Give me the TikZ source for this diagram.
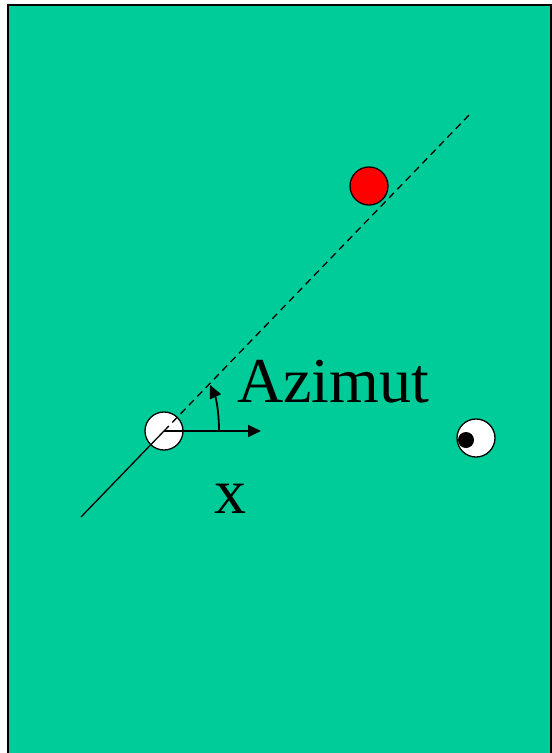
\documentclass[tikz,border=0pt]{standalone}
\usepackage{fontspec}
\setmainfont{Liberation Serif}
\usetikzlibrary{arrows.meta}
\definecolor{field}{HTML}{00CC99}
\tikzset{
  ball/.style={circle,draw=black,line width=1.3pt,minimum size=38pt,inner sep=0pt},
  lbl/.style={font=\fontsize{64}{64}\selectfont,inner sep=0pt,anchor=base west},
  arr/.style={line width=1.8pt,-{Triangle[length=13pt,width=12pt]}}
}
\begin{document}
\begin{tikzpicture}[x=1pt,y=-1pt]
\useasboundingbox (0,0) rectangle (552,753);
\fill[field] (8,5) rectangle (551,760);
\draw[black,line width=2pt] (8,760) -- (8,5) -- (551,5) -- (551,760);
\coordinate (s) at (81,517);
\coordinate (e) at (471,113);
\coordinate (o) at (164,431);
\node[ball,fill=white] (w) at (o) {};
\draw[line width=1.3pt] (s) -- (o);
\draw[line width=1.3pt,dash pattern=on 7pt off 5pt] (o) -- (e);
\node[ball,fill=red] (r) at (369,186) {};
\node[ball,fill=white] (eye) at (476,438) {};
\node[circle,fill=black,minimum size=16pt,inner sep=0pt] (pupil) at (466,440) {};
\coordinate (xe) at (261,431);
\draw[arr] (o) -- (xe);
\coordinate (a0) at (219,431);
\coordinate (a1) at (210,385);
\draw[arr] (a0) .. controls (219,412) and (216,398) .. (a1);
\node[lbl] (az) at (237,402) {Azimut};
\node[lbl] (xl) at (214,513) {x};
\end{tikzpicture}
\end{document}
